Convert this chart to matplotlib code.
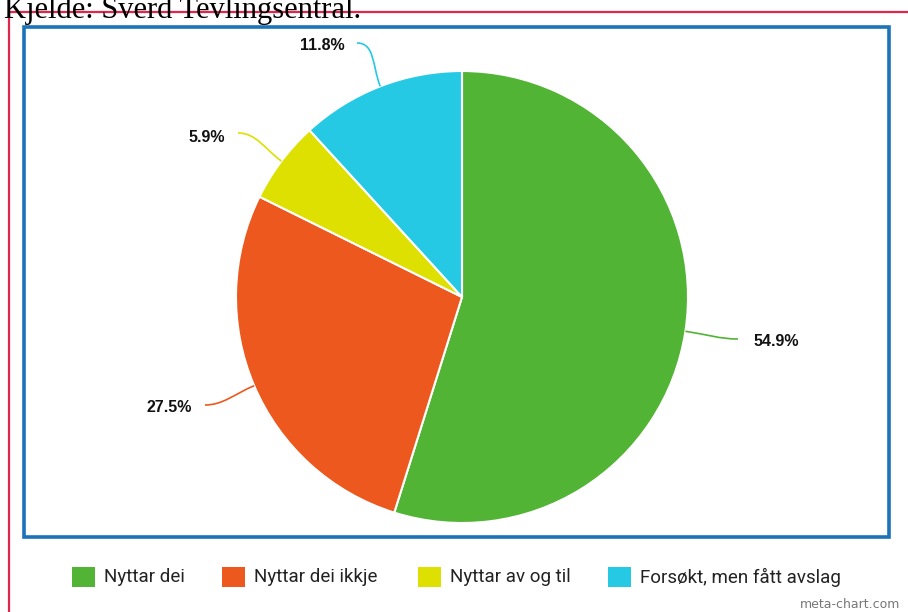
import matplotlib
matplotlib.use("Agg")
import numpy as np
import matplotlib.pyplot as plt
from matplotlib.patches import Rectangle, PathPatch
from matplotlib.path import Path

# data
categories = ["Nyttar dei", "Nyttar dei ikkje", "Nyttar av og til", "Forsøkt, men fått avslag"]
shares = [54.9, 27.5, 5.9, 11.8]
colors = ["#52b435", "#ec581d", "#dde000", "#25c9e4"]
pct_labels = ["54.9%", "27.5%", "5.9%", "11.8%"]

W, H = 908, 612

def fy(y_top):
    # pixel row (from top) -> data y (from bottom)
    return H - y_top

fig = plt.figure(figsize=(W / 100, H / 100), dpi=100, facecolor="white")
ax = fig.add_axes([0, 0, 1, 1])

# frames
ax.add_patch(Rectangle((8.5, -10), 960, fy(12) + 10, fill=False, edgecolor="#e0264c", lw=1.6))
ax.add_patch(Rectangle((24, fy(537)), 865, 510, fill=False, edgecolor="#1b73b9", lw=2.6))

# source line at the top (cropped in the original)
ax.text(4, fy(18), "Kjelde: Sverd Tevlingsentral.", family="Liberation Serif",
        fontsize=22, color="black", va="baseline", ha="left")

# pie
cx, cy, r = 462, fy(297), 226
wedges, _ = ax.pie(shares, colors=colors, startangle=90, counterclock=False,
                   center=(cx, cy), radius=r, frame=True,
                   wedgeprops=dict(edgecolor="white", linewidth=1.5))
ax.set_xlim(0, W)
ax.set_ylim(0, H)
ax.axis("off")

# percentage labels with leader lines
label_ends = [(738, 339), (205, 405), (238, 133), (357, 43)]
label_pos = [(754, 342), (192, 407), (225, 137), (345, 46)]
label_ha = ["left", "right", "right", "right"]
for w, txt, end, pos, ha, col in zip(wedges, pct_labels, label_ends, label_pos, label_ha, colors):
    ang = np.deg2rad((w.theta1 + w.theta2) / 2)
    p0 = (cx + r * np.cos(ang), cy + r * np.sin(ang))
    p1 = (cx + (r + 22) * np.cos(ang), cy + (r + 22) * np.sin(ang))
    ex, ey = end[0], fy(end[1])
    side = 1 if ha == "left" else -1
    p2 = (ex - side * 18, ey)
    path = Path([p0, p1, p2, (ex, ey)], [Path.MOVETO, Path.CURVE4, Path.CURVE4, Path.CURVE4])
    ax.add_patch(PathPatch(path, fill=False, edgecolor=col, lw=1.2))
    ax.text(pos[0], fy(pos[1]), txt, family="Liberation Sans", fontweight="bold",
            fontsize=11.5, ha=ha, va="center", color="#111111")

# legend
leg_x = [72, 222, 418, 608]
leg_y = 577
for x0, name, col in zip(leg_x, categories, colors):
    ax.add_patch(Rectangle((x0, fy(leg_y + 10)), 23, 20, facecolor=col, edgecolor="none"))
    ax.text(x0 + 32, fy(leg_y), name, family="Roboto",
            fontsize=13.5, ha="left", va="center", color="#222222")

ax.text(900, fy(605), "meta-chart.com", family="DejaVu Sans", fontsize=9,
        ha="right", va="center", color="#777777")

fig.savefig("out.png", dpi=100, facecolor="white")
